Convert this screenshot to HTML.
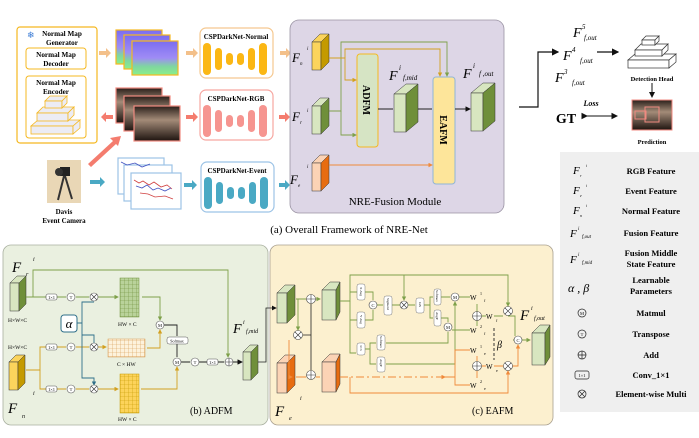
<!DOCTYPE html>
<html><head><meta charset="utf-8">
<style>
html,body{margin:0;padding:0;background:#fff;}
svg{display:block;}
text{font-family:"Liberation Serif",serif;}
.b{font-weight:bold;}
.i{font-style:italic;}
</style></head><body>
<svg width="699" height="438" viewBox="0 0 699 438" xmlns="http://www.w3.org/2000/svg">
<defs>
<linearGradient id="nm" x1="0" y1="0" x2="0" y2="1">
<stop offset="0" stop-color="#7b6cf0"/><stop offset="0.5" stop-color="#9f8cf5"/><stop offset="0.75" stop-color="#7fd6a0"/><stop offset="1" stop-color="#8af08a"/></linearGradient>
<linearGradient id="rg" x1="0" y1="0" x2="0" y2="1">
<stop offset="0" stop-color="#2a1f1a"/><stop offset="0.4" stop-color="#a38b78"/><stop offset="1" stop-color="#1e1410"/></linearGradient>
<marker id="ak" markerWidth="6" markerHeight="6" refX="5" refY="3" orient="auto"><path d="M0,0 L6,3 L0,6z" fill="#111"/></marker>
<marker id="ag" markerWidth="5" markerHeight="5" refX="4" refY="2.5" orient="auto"><path d="M0,0 L5,2.5 L0,5z" fill="#7ea04a"/></marker>
<marker id="ao" markerWidth="5" markerHeight="5" refX="4" refY="2.5" orient="auto"><path d="M0,0 L5,2.5 L0,5z" fill="#f08a3a"/></marker>
<marker id="ay" markerWidth="5" markerHeight="5" refX="4" refY="2.5" orient="auto"><path d="M0,0 L5,2.5 L0,5z" fill="#d2a020"/></marker>
<marker id="ab" markerWidth="5" markerHeight="5" refX="4" refY="2.5" orient="auto"><path d="M0,0 L5,2.5 L0,5z" fill="#2f6f8a"/></marker>
<pattern id="gg" width="4" height="4" patternUnits="userSpaceOnUse"><rect width="4" height="4" fill="#b9d29a"/><path d="M0,0H4M0,0V4" stroke="#6f8f3a" stroke-width="0.6"/></pattern>
<pattern id="gy" width="4" height="4" patternUnits="userSpaceOnUse"><rect width="4" height="4" fill="#fcd35a"/><path d="M0,0H4M0,0V4" stroke="#c49a00" stroke-width="0.6"/></pattern>
<pattern id="gc" width="4" height="4" patternUnits="userSpaceOnUse"><rect width="4" height="4" fill="#fdf2dc"/><path d="M0,0H4M0,0V4" stroke="#d69a50" stroke-width="0.6"/></pattern>
</defs>

<rect x="17" y="27" width="80" height="116" rx="3" fill="#fff" stroke="#f5b820" stroke-width="1.2"/>
<text x="27" y="38" font-size="9" fill="#3a7bd5">❄</text>
<text x="62" y="36" font-size="7.2" class="b" text-anchor="middle">Normal Map</text>
<text x="62" y="45" font-size="7.2" class="b" text-anchor="middle">Generator</text>
<rect x="26" y="48" width="60" height="21" rx="3" fill="#fff" stroke="#f5b820"/>
<text x="56" y="57" font-size="7.2" class="b" text-anchor="middle">Normal Map</text>
<text x="56" y="66" font-size="7.2" class="b" text-anchor="middle">Decoder</text>
<rect x="26" y="76" width="60" height="62" rx="3" fill="#fff" stroke="#f5b820"/>
<text x="56" y="85" font-size="7.2" class="b" text-anchor="middle">Normal Map</text>
<text x="56" y="94" font-size="7.2" class="b" text-anchor="middle">Encoder</text>
<g fill="#ececf4" stroke="#f5b820" stroke-width="0.8">
<polygon points="31,126 73,126 80,120 38,120"/><rect x="31" y="126" width="42" height="8"/><polygon points="73,126 80,120 80,128 73,134"/>
<polygon points="37,113 68,113 74,107 43,107"/><rect x="37" y="113" width="31" height="8"/><polygon points="68,113 74,107 74,115 68,121"/>
<polygon points="45,101 62,101 67,96 50,96"/><rect x="45" y="101" width="17" height="7"/><polygon points="62,101 67,96 67,103 62,108"/>
</g>

<g stroke="#f5b820" stroke-width="1.2" fill="url(#nm)">
<rect x="116" y="30" width="46" height="34"/><rect x="124" y="35" width="46" height="34"/><rect x="132" y="41" width="46" height="34"/>
</g>
<g stroke="#f08a80" stroke-width="1.2" fill="url(#rg)">
<rect x="116" y="88" width="46" height="35"/><rect x="124" y="96" width="46" height="35"/><rect x="134" y="106" width="46" height="35"/>
</g>
<g stroke="#9cc3e6" stroke-width="1.2" fill="#fff">
<rect x="118" y="158" width="46" height="36"/><rect x="124" y="165" width="48" height="36"/><rect x="131" y="173" width="50" height="36"/>
</g>
<g stroke-width="0.8" fill="none">
<path d="M134,180 l5,3 l4,-2 l6,4 l5,-3 l7,5 l6,-2 l5,4" stroke="#d04040"/>
<path d="M136,186 l6,2 l5,-3 l6,5 l5,-2 l7,3 l6,-3" stroke="#4050c0"/>
<path d="M140,193 l8,1 l7,3 l10,-1 l8,3" stroke="#d04040"/>
<path d="M121,162 l6,3 l8,-2 l7,4 l8,-3" stroke="#4050c0"/>
</g>

<rect x="47" y="160" width="34" height="43" fill="#e9d7b6"/>
<rect x="60" y="167" width="10" height="9" fill="#222"/><circle cx="59" cy="172" r="4" fill="#333"/>
<path d="M64,176 L58,200 M65,176 L72,199" stroke="#333" stroke-width="2"/>
<text x="64" y="214" font-size="7" class="b" text-anchor="middle">Davis</text>
<text x="64" y="223" font-size="7" class="b" text-anchor="middle">Event Camera</text>

<g>
<rect x="200" y="28" width="73" height="50" rx="6" fill="#fff" stroke="#f5c890" stroke-width="1.2"/>
<text x="236" y="39" font-size="7" class="b" text-anchor="middle">CSPDarkNet-Normal</text>
<g fill="#fbb714"><rect x="203" y="43" width="8" height="32" rx="4"/><rect x="215" y="48" width="7" height="22" rx="3.5"/><rect x="226" y="53" width="7" height="12" rx="3.5"/><rect x="237" y="53" width="7" height="12" rx="3.5"/><rect x="248" y="48" width="7" height="22" rx="3.5"/><rect x="259" y="43" width="8" height="32" rx="4"/></g>
<rect x="200" y="90" width="73" height="50" rx="6" fill="#fff" stroke="#f6a6a0" stroke-width="1.2"/>
<text x="236" y="101" font-size="7" class="b" text-anchor="middle">CSPDarkNet-RGB</text>
<g fill="#f69590"><rect x="203" y="105" width="8" height="32" rx="4"/><rect x="215" y="110" width="7" height="22" rx="3.5"/><rect x="226" y="115" width="7" height="12" rx="3.5"/><rect x="237" y="115" width="7" height="12" rx="3.5"/><rect x="248" y="110" width="7" height="22" rx="3.5"/><rect x="259" y="105" width="8" height="32" rx="4"/></g>
<rect x="201" y="162" width="73" height="50" rx="6" fill="#fff" stroke="#9cc3e6" stroke-width="1.2"/>
<text x="237" y="173" font-size="7" class="b" text-anchor="middle">CSPDarkNet-Event</text>
<g fill="#4aa9c4"><rect x="204" y="177" width="8" height="32" rx="4"/><rect x="216" y="182" width="7" height="22" rx="3.5"/><rect x="227" y="187" width="7" height="12" rx="3.5"/><rect x="238" y="187" width="7" height="12" rx="3.5"/><rect x="249" y="182" width="7" height="22" rx="3.5"/><rect x="260" y="177" width="8" height="32" rx="4"/></g>
</g>

<g>
<g fill="#f3c08a"><path d="M99,51h7v-3l5,5l-5,5v-3h-7z"/><path d="M186,51h7v-3l5,5l-5,5v-3h-7z"/><path d="M280,51h6v-3l5,5l-5,5v-3h-6z"/></g>
<g fill="#f47c6e"><path d="M113,115h-7v-3l-5,5l5,5v-3h7z"/><path d="M186,115h7v-3l5,5l-5,5v-3h-7z"/><path d="M279,115h6v-3l5,5l-5,5v-3h-6z"/>
<path d="M88,164 L113,141 L110,138 L121,136 L118,146 L116,144 L91,167z"/></g>
<g fill="#4aa9c4"><path d="M90,180h10v-3l5,5l-5,5v-3h-10z"/><path d="M184,183h8v-3l5,5l-5,5v-3h-8z"/><path d="M279,183h6v-3l5,5l-5,5v-3h-6z"/></g>
</g>

<rect x="290" y="20" width="214" height="193" rx="9" fill="#ddd6e6" stroke="#9a93a3" stroke-width="0.8"/>
<text x="292" y="62" font-size="13" class="i">F</text><text x="300" y="65" font-size="5" class="i">n</text><text x="307" y="50" font-size="5" class="i">i</text>
<text x="292" y="121" font-size="13" class="i">F</text><text x="300" y="124" font-size="5" class="i">r</text><text x="307" y="112" font-size="5" class="i">i</text>
<text x="290" y="184" font-size="13" class="i">F</text><text x="298" y="187" font-size="5" class="i">e</text><text x="307" y="168" font-size="5" class="i">i</text>
<g stroke="#333" stroke-width="0.5">
<polygon points="312,42 320,34 329,34 321,42" fill="#fbd45c"/><rect x="312" y="42" width="9" height="28" fill="#fbd45c"/><polygon points="321,42 329,34 329,62 321,70" fill="#c49a00"/>
<polygon points="312,106 320,98 329,98 321,106" fill="#d8e6c0"/><rect x="312" y="106" width="9" height="28" fill="#d8e6c0"/><polygon points="321,106 329,98 329,126 321,134" fill="#6f8f3a"/>
<polygon points="312,163 320,155 329,155 321,163" fill="#fbd3b5"/><rect x="312" y="163" width="9" height="28" fill="#fbd3b5"/><polygon points="321,163 329,155 329,183 321,191" fill="#e76c10"/>
<polygon points="394,94 406,84 418,84 406,94" fill="#d8e6c0"/><rect x="394" y="94" width="12" height="38" fill="#d8e6c0"/><polygon points="406,94 418,84 418,122 406,132" fill="#6f8f3a"/>
<polygon points="471,93 483,83 495,83 483,93" fill="#d8e6c0"/><rect x="471" y="93" width="12" height="38" fill="#d8e6c0"/><polygon points="483,93 495,83 495,121 483,131" fill="#6f8f3a"/>
</g>
<rect x="357" y="54" width="21" height="93" rx="3" fill="#d6e4c4" stroke="#f5b820" stroke-width="1"/>
<text transform="translate(363,100) rotate(90)" font-size="10" class="b" text-anchor="middle">ADFM</text>
<rect x="433" y="77" width="22" height="107" rx="3" fill="#fde59a" stroke="#8fb5d8" stroke-width="1"/>
<text transform="translate(440,130) rotate(90)" font-size="10" class="b" text-anchor="middle">EAFM</text>
<g fill="none" stroke-width="0.9">
<path d="M329,111 H341 V42 H447 V76" stroke="#7ea04a" marker-end="url(#ag)"/>
<path d="M341,111 V135 H356" stroke="#7ea04a" marker-end="url(#ag)"/>
<path d="M329,58 H345 V80 H356" stroke="#d2a020" marker-end="url(#ay)"/>
<path d="M345,58 V49 H440 V76" stroke="#d2a020" marker-end="url(#ay)"/>
<path d="M329,165 H432" stroke="#f08a3a" marker-end="url(#ao)"/>
<path d="M378,109 H393 M418,109 H432 M455,109 H470" stroke="#222" marker-end="url(#ak)"/>
</g>
<text x="389" y="80" font-size="14" class="i">F</text><text x="399" y="70" font-size="7" class="i">i</text><text x="403" y="80" font-size="7" class="i">f,mid</text>
<text x="463" y="78" font-size="14" class="i">F</text><text x="473" y="68" font-size="7" class="i">i</text><text x="479" y="76" font-size="7" class="i">f ,out</text>
<text x="395" y="205" font-size="11" text-anchor="middle">NRE-Fusion Module</text>
<text x="349" y="233" font-size="11" text-anchor="middle">(a) Overall Framework of NRE-Net</text>

<path d="M519,107 H538 V52 H558" fill="none" stroke="#111" stroke-width="1.2" marker-end="url(#ak)"/>
<text x="573" y="37" font-size="14" class="i">F</text><text x="582" y="29" font-size="7" class="i">5</text><text x="584" y="40" font-size="7" class="i">f,out</text>
<text x="563" y="60" font-size="14" class="i">F</text><text x="572" y="52" font-size="7" class="i">4</text><text x="580" y="63" font-size="7" class="i">f,out</text>
<text x="555" y="82" font-size="14" class="i">F</text><text x="564" y="74" font-size="7" class="i">3</text><text x="572" y="85" font-size="7" class="i">f,out</text>
<path d="M597,52 H618" stroke="#111" stroke-width="1.2" marker-end="url(#ak)"/>
<g fill="#fff" stroke="#333" stroke-width="0.7">
<polygon points="628,60 669,60 676,54 635,54"/><rect x="628" y="60" width="41" height="8"/><polygon points="669,60 676,54 676,62 669,68"/>
<polygon points="635,50 662,50 668,44 641,44"/><rect x="635" y="50" width="27" height="6"/><polygon points="662,50 668,44 668,50 662,56"/>
<polygon points="642,40 655,40 659,36 646,36"/><rect x="642" y="40" width="13" height="5"/><polygon points="655,40 659,36 659,41 655,45"/>
</g>
<text x="652" y="81" font-size="6.5" class="b" text-anchor="middle">Detection Head</text>
<path d="M652,83 V97" stroke="#111" stroke-width="1" marker-end="url(#ak)"/>
<rect x="632" y="100" width="40" height="30" fill="url(#rg)" stroke="#f08a80"/>
<rect x="645" y="107" width="14" height="15" fill="none" stroke="#f08a80"/><rect x="635" y="111" width="11" height="8" fill="none" stroke="#f08a80"/>
<text x="652" y="144" font-size="6.5" class="b" text-anchor="middle">Prediction</text>
<text x="591" y="106" font-size="8" class="b i" text-anchor="middle">Loss</text>
<text x="566" y="123" font-size="14" class="b" text-anchor="middle">GT</text>
<path d="M587,116 H617" stroke="#111" stroke-width="1.1" marker-end="url(#ak)" marker-start="url(#ak)"/>

<rect x="560" y="152" width="139" height="260" fill="#efefef"/>
<g font-size="8.5" class="b" text-anchor="middle">
<text x="651" y="174">RGB Feature</text>
<text x="651" y="194">Event Feature</text>
<text x="651" y="214">Normal Feature</text>
<text x="651" y="236">Fusion Feature</text>
<text x="651" y="256">Fusion Middle</text><text x="651" y="267">State Feature</text>
<text x="651" y="283">Learnable</text><text x="651" y="294">Parameters</text>
<text x="651" y="316">Matmul</text>
<text x="651" y="337">Transpose</text>
<text x="651" y="358">Add</text>
<text x="651" y="378">Conv_1×1</text>
<text x="651" y="397">Element-wise Multi</text>
</g>
<g font-size="11" class="i">
<text x="573" y="174">F</text><text x="580" y="177" font-size="4">r</text><text x="586" y="167" font-size="4">i</text>
<text x="573" y="194">F</text><text x="580" y="197" font-size="4">e</text><text x="586" y="187" font-size="4">i</text>
<text x="573" y="214">F</text><text x="580" y="217" font-size="4">n</text><text x="586" y="207" font-size="4">i</text>
<text x="570" y="237">F</text><text x="578" y="230" font-size="5">i</text><text x="582" y="238" font-size="5">f,out</text>
<text x="570" y="263">F</text><text x="578" y="256" font-size="5">i</text><text x="582" y="264" font-size="5">f,mid</text>
<text x="568" y="292" font-size="12">α , β</text>
</g>
<g fill="none" stroke="#222" stroke-width="0.7">
<circle cx="582" cy="313" r="4"/><circle cx="582" cy="334" r="4"/><circle cx="582" cy="355" r="4"/><path d="M578,355h8M582,351v8"/>
<rect x="575" y="371" width="14" height="8" rx="2"/><circle cx="582" cy="394" r="4"/><path d="M579,391l6,6M585,391l-6,6"/>
</g>
<text x="582" y="315" font-size="4.5" text-anchor="middle">M</text><text x="582" y="336" font-size="4.5" text-anchor="middle">T</text>
<text x="582" y="377" font-size="4.5" text-anchor="middle">1×1</text>

<rect x="3" y="245" width="265" height="180" rx="8" fill="#eaf0e0" stroke="#a9b0a0" stroke-width="0.8"/>
<text x="12" y="272" font-size="15" class="i">F</text><text x="26" y="276" font-size="6" class="i">r</text><text x="33" y="261" font-size="6" class="i">i</text>
<text x="8" y="413" font-size="15" class="i">F</text><text x="22" y="418" font-size="6" class="i">n</text><text x="33" y="395" font-size="6" class="i">i</text>
<g stroke="#333" stroke-width="0.5">
<polygon points="10,283 17,276 26,276 19,283" fill="#d8e6c0"/><rect x="10" y="283" width="9" height="28" fill="#d8e6c0"/><polygon points="19,283 26,276 26,304 19,311" fill="#6f8f3a"/>
<polygon points="9,362 16,355 25,355 18,362" fill="#fbd45c"/><rect x="9" y="362" width="9" height="28" fill="#fbd45c"/><polygon points="18,362 25,355 25,383 18,390" fill="#c49a00"/>
<polygon points="243,352 250,345 258,345 251,352" fill="#d8e6c0"/><rect x="243" y="352" width="8" height="28" fill="#d8e6c0"/><polygon points="251,352 258,345 258,373 251,380" fill="#6f8f3a"/>
</g>
<text x="8" y="322" font-size="5.5">H×W×C</text><text x="8" y="349" font-size="5.5">H×W×C</text>
<rect x="120" y="278" width="19" height="39" fill="url(#gg)" stroke="#6f8f3a" stroke-width="0.5"/>
<rect x="108" y="339" width="37" height="18" fill="url(#gc)" stroke="#d69a50" stroke-width="0.5"/>
<rect x="120" y="374" width="19" height="39" fill="url(#gy)" stroke="#c49a00" stroke-width="0.5"/>
<text x="118" y="326" font-size="5.5">HW × C</text><text x="117" y="366" font-size="5.5">C × HW</text><text x="118" y="421" font-size="5.5">HW × C</text>
<rect x="61" y="315" width="16" height="17" rx="3" fill="#fff" stroke="#2f6f8a"/>
<text x="69" y="328" font-size="13" class="i" text-anchor="middle">α</text>
<g fill="none" stroke-width="0.9">
<path d="M26,297 H46 M57,297 H66 M76,297 H89 M98,297 H118" stroke="#7ea04a" marker-end="url(#ag)"/>
<path d="M33,297 V270 H228 V357" stroke="#7ea04a" marker-end="url(#ag)"/>
<path d="M142,297 H160 V320" stroke="#7ea04a" marker-end="url(#ag)"/>
<path d="M26,370 H40 V347 H46 M57,347 H66 M76,347 H89 M98,347 H106" stroke="#d2a020" marker-end="url(#ay)"/>
<path d="M40,370 V389 H46 M57,389 H66 M76,389 H89 M98,389 H118" stroke="#d2a020" marker-end="url(#ay)"/>
<path d="M147,348 H160 V330" stroke="#d2a020" marker-end="url(#ay)"/>
<path d="M141,389 H177 V367" stroke="#d2a020" marker-end="url(#ay)"/>
<path d="M77,323 H82 V302 H94 M82,323 V335 H94 V343 M82,335 V378 H94 V385" stroke="#2f6f8a" marker-end="url(#ab)"/>
<path d="M164,325 H177 V336 M177,343 V357 M181,362 H190 M199,362 H207 M217,362 H224 M233,362 H242" stroke="#222" marker-end="url(#ak)"/>
</g>
<rect x="167" y="337" width="21" height="7" rx="2" fill="#fff" stroke="#555" stroke-width="0.5"/><text x="177" y="342.5" font-size="4" text-anchor="middle">Softmax</text>
<g fill="#fff" stroke="#555" stroke-width="0.6">
<rect x="46" y="294" width="11" height="6" rx="2"/><rect x="46" y="344" width="11" height="6" rx="2"/><rect x="46" y="386" width="11" height="6" rx="2"/><rect x="207" y="359" width="11" height="6" rx="2"/>
<circle cx="71" cy="297" r="4"/><circle cx="71" cy="347" r="4"/><circle cx="71" cy="389" r="4"/><circle cx="195" cy="362" r="4"/>
<circle cx="94" cy="297" r="4"/><circle cx="94" cy="347" r="4"/><circle cx="94" cy="389" r="4"/>
<circle cx="160" cy="325" r="4"/><circle cx="177" cy="362" r="4"/><circle cx="229" cy="362" r="4"/>
</g>
<g stroke="#333" stroke-width="0.6"><path d="M91,294l6,6M97,294l-6,6M91,344l6,6M97,344l-6,6M91,386l6,6M97,386l-6,6M225,362h8M229,358v8"/></g>
<g font-size="4.5" text-anchor="middle"><text x="71" y="299">T</text><text x="71" y="349">T</text><text x="71" y="391">T</text><text x="195" y="364">T</text><text x="160" y="327">M</text><text x="177" y="364">M</text><text x="51.5" y="299">1×1</text><text x="51.5" y="349">1×1</text><text x="51.5" y="391">1×1</text><text x="212.5" y="364">1×1</text></g>
<text x="233" y="333" font-size="14" class="i">F</text><text x="243" y="324" font-size="6" class="i">i</text><text x="246" y="333" font-size="6" class="i">f,mid</text>
<text x="190" y="414" font-size="10">(b) ADFM</text>

<rect x="270" y="245" width="283" height="180" rx="8" fill="#fcf0cf" stroke="#a9a090" stroke-width="0.8"/>
<path d="M258,362 H266 V308 H276" fill="none" stroke="#222" stroke-width="0.8" marker-end="url(#ak)"/>
<g stroke="#333" stroke-width="0.5">
<polygon points="277,293 285,285 295,285 287,293" fill="#d8e6c0"/><rect x="277" y="293" width="10" height="30" fill="#d8e6c0"/><polygon points="287,293 295,285 295,315 287,323" fill="#6f8f3a"/>
<polygon points="322,290 330,282 340,282 336,290" fill="#d8e6c0"/><rect x="322" y="290" width="14" height="30" fill="#d8e6c0"/><polygon points="336,290 340,282 340,312 336,320" fill="#6f8f3a"/>
<polygon points="277,363 285,355 295,355 287,363" fill="#fbd3b5"/><rect x="277" y="363" width="10" height="30" fill="#fbd3b5"/><polygon points="287,363 295,355 295,385 287,393" fill="#e76c10"/>
<polygon points="322,362 330,354 340,354 336,362" fill="#fbd3b5"/><rect x="322" y="362" width="14" height="30" fill="#fbd3b5"/><polygon points="336,362 340,354 340,384 336,392" fill="#e76c10"/>
<polygon points="532,333 540,325 550,325 545,333" fill="#d8e6c0"/><rect x="532" y="333" width="13" height="32" fill="#d8e6c0"/><polygon points="545,333 550,325 550,357 545,365" fill="#6f8f3a"/>
</g>
<g fill="none" stroke-width="0.9">
<path d="M296,299 H306 M316,299 H320" stroke="#7ea04a" marker-end="url(#ag)"/>
<path d="M298,299 V330" stroke="#7ea04a" marker-end="url(#ag)"/>
<path d="M340,301 H350 V275 H508 V306" stroke="#7ea04a" marker-end="url(#ag)"/>
<path d="M350,301 V353 H356 M350,292 H357 M350,320 H357 M365,292 H373 V300 M365,320 H373 V310 M377,305 H383 M392,305 H400 M408,305 H415 M424,305 H430 V297 H433 M430,305 V318 H433 M441,297 H450 M441,318 H448 V322 M459,297 H470 M452,330 H470 M404,275 V300" stroke="#7ea04a" marker-end="url(#ag)"/>
<path d="M365,349 H370 V343 H376 M370,349 V364 H376 M386,343 H448 V332 M386,364 H455 V302" stroke="#7ea04a" marker-end="url(#ag)"/>
<path d="M477,304 V312 M477,326 V320 M482,316 H486 M494,316 H503 M508,316 H515 V336 M513,340 H530" stroke="#7ea04a" marker-end="url(#ag)"/>
<path d="M296,377 H306 M316,377 H320 M289,377 V340 M289,377 H292" stroke="#f08a3a" marker-end="url(#ao)"/>
<path d="M340,377 H445" stroke="#f08a3a" stroke-dasharray="8,3,2,3" marker-end="url(#ao)"/>
<path d="M445,377 H455 V350 H470 M455,377 V385 H470 M477,356 V361 M477,378 V371 M482,366 H486 M494,366 H503 M508,366 H518 V345" stroke="#f08a3a" marker-end="url(#ao)"/>
<path d="M350,377 V393 H508 V371" stroke="#f08a3a" marker-end="url(#ao)"/>
<path d="M303,335 H311 V304 M311,335 V370 M304,335 H311" stroke="#222" stroke-width="0.8"/>
<path d="M494,328 V360" stroke="#222" stroke-dasharray="3,2"/>
</g>
<g fill="#fff" stroke="#777" stroke-width="0.5">
<rect x="357" y="284" width="8" height="16" rx="2"/><rect x="357" y="312" width="8" height="16" rx="2"/><rect x="384" y="296" width="8" height="19" rx="2"/><rect x="416" y="298" width="8" height="15" rx="2"/>
<rect x="434" y="289" width="7" height="16" rx="2"/><rect x="434" y="310" width="7" height="16" rx="2"/><rect x="357" y="343" width="8" height="12" rx="2"/><rect x="377" y="335" width="8" height="15" rx="2"/><rect x="377" y="357" width="8" height="15" rx="2"/>
</g>
<g font-size="3.5">
<text transform="translate(360,287) rotate(90)">X Avg</text><text transform="translate(360,315) rotate(90)">Y Avg</text><text transform="translate(387,298) rotate(90)">Sigmoid</text><text transform="translate(419,302) rotate(90)">GN</text>
<text transform="translate(436,290) rotate(90)">Softmax</text><text transform="translate(436,312) rotate(90)">AvgP</text><text transform="translate(360,345) rotate(90)">3×3</text><text transform="translate(380,336) rotate(90)">Softmax</text><text transform="translate(380,359) rotate(90)">AvgP</text>
</g>
<g fill="#fff" stroke="#444" stroke-width="0.6">
<circle cx="311" cy="299" r="4.5"/><circle cx="298" cy="335" r="4.5"/><circle cx="311" cy="375" r="4.5"/><circle cx="373" cy="305" r="4"/><circle cx="404" cy="305" r="4"/>
<circle cx="455" cy="297" r="4"/><circle cx="448" cy="327" r="4"/><circle cx="477" cy="316" r="4.5"/><circle cx="477" cy="366" r="4.5"/><circle cx="508" cy="311" r="4.5"/><circle cx="508" cy="366" r="4.5"/><circle cx="518" cy="340" r="4"/>
</g>
<g stroke="#333" stroke-width="0.6">
<path d="M306.5,299h9M311,294.5v9M306.5,375h9M311,370.5v9M472.5,316h9M477,311.5v9M472.5,366h9M477,361.5v9"/>
<path d="M295,332l6,6M301,332l-6,6M401,302l6,6M407,302l-6,6M505,308l6,6M511,308l-6,6M505,363l6,6M511,363l-6,6"/>
</g>
<g font-size="4.5" text-anchor="middle"><text x="373" y="307">C</text><text x="455" y="299">M</text><text x="448" y="329">M</text><text x="518" y="342">C</text></g>
<g font-size="7">
<text x="470" y="300">W</text><text x="480" y="295" font-size="4">1</text><text x="484" y="302" font-size="4">f</text>
<text x="486" y="319">W</text><text x="496" y="322" font-size="4">f</text>
<text x="470" y="333">W</text><text x="480" y="328" font-size="4">2</text><text x="484" y="335" font-size="4">f</text>
<text x="470" y="353">W</text><text x="480" y="348" font-size="4">1</text><text x="484" y="355" font-size="4">e</text>
<text x="486" y="369">W</text><text x="496" y="372" font-size="4">e</text>
<text x="470" y="388">W</text><text x="480" y="383" font-size="4">2</text><text x="484" y="390" font-size="4">e</text>
</g>
<text x="497" y="348" font-size="10" class="i">β</text>
<text x="520" y="320" font-size="15" class="i">F</text><text x="531" y="310" font-size="6" class="i">i</text><text x="534" y="320" font-size="6" class="i">f,out</text>
<text x="275" y="416" font-size="15" class="i">F</text><text x="289" y="420" font-size="6" class="i">e</text><text x="300" y="400" font-size="6" class="i">i</text>
<text x="472" y="414" font-size="10">(c) EAFM</text>
</svg>
</body></html>
